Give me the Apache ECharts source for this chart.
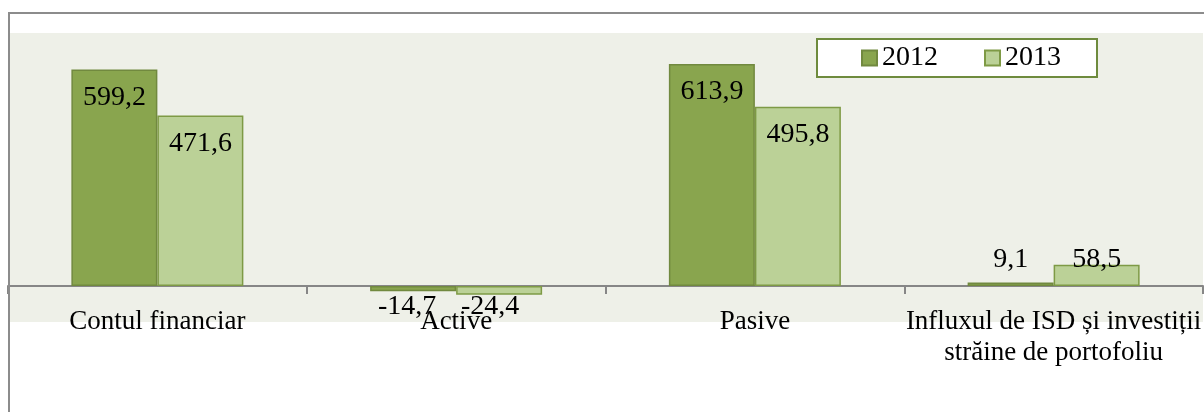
<!DOCTYPE html>
<html>
<head>
<meta charset="utf-8">
<script src="https://cdn.jsdelivr.net/npm/echarts@6/dist/echarts.min.js"></script>
<style>
  html, body { margin: 0; padding: 0; background: #fff; }
  #chart { width: 1204px; height: 412px; }
</style>
</head>
<body>
<div id="chart"></div>
<script>
// date din grafic
const categories = ['Contul financiar', 'Active', 'Pasive', 'Influxul de ISD și investiții\nstrăine de portofoliu']
const seriesNames = ['2012', '2013']
const values2012 = [599.2, -14.7, 613.9, 9.1]
const values2013 = [471.6, -24.4, 495.8, 58.5]

const FONT = '"Liberation Serif", "Times New Roman", serif'

// pozitia etichetelor, pe fiecare bara
const labels2012 = [
  { position: 'insideTop', distance: 14 },
  { position: 'bottom', distance: 0, offset: [-6, 1] },
  { position: 'insideTop', distance: 14 },
  { position: 'top', distance: 9 }
]
const labels2013 = [
  { position: 'insideTop', distance: 14 },
  { position: 'bottom', distance: 0, offset: [-9, -2] },
  { position: 'insideTop', distance: 14 },
  { position: 'top', distance: 9, offset: [0, 18] }
]

function fmt(v) {
  return v.toFixed(1).replace('.', ',')
}

function buildData(values, labels) {
  return values.map((v, i) => ({ value: v, label: labels[i] }))
}

const chart = echarts.init(document.getElementById('chart'))

const option = {
  animation: false,
  backgroundColor: '#fff',
  textStyle: { fontFamily: FONT },
  grid: {
    left: 8,
    right: 1,
    top: 33,
    bottom: 90,
    show: true,
    backgroundColor: '#EEF0E8',
    borderWidth: 0,
    containLabel: false,
    outerBoundsMode: 'none'
  },
  legend: {
    data: seriesNames,
    left: 817,
    top: 39,
    padding: [5, 36, 5, 44],
    itemGap: 46,
    itemWidth: 15,
    itemHeight: 15,
    icon: 'rect',
    backgroundColor: '#fff',
    borderColor: '#6E8B3D',
    borderWidth: 2,
    borderRadius: 0,
    textStyle: { fontFamily: FONT, fontSize: 28, color: '#000' }
  },
  xAxis: {
    type: 'category',
    data: categories,
    axisLine: { onZero: true, lineStyle: { color: '#868686', width: 2 } },
    axisTick: { show: true, length: 8, lineStyle: { color: '#868686', width: 2 } },
    axisLabel: {
      interval: 0,
      margin: -16,
      fontFamily: FONT,
      fontSize: 27,
      lineHeight: 31,
      color: '#000'
    }
  },
  yAxis: {
    type: 'value',
    min: -100,
    max: 700,
    show: false,
    splitLine: { show: false }
  },
  series: [
    {
      name: '2012',
      type: 'bar',
      barWidth: 86,
      barGap: '0%',
      data: buildData(values2012, labels2012),
      itemStyle: { color: '#89A54E', borderColor: '#71893F', borderWidth: 1.5 },
      label: {
        show: true,
        fontFamily: FONT,
        fontSize: 28,
        color: '#000',
        formatter: p => fmt(p.value)
      }
    },
    {
      name: '2013',
      type: 'bar',
      barWidth: 86,
      barGap: '0%',
      data: buildData(values2013, labels2013),
      itemStyle: { color: '#BBD197', borderColor: '#7E9A45', borderWidth: 1.5 },
      label: {
        show: true,
        fontFamily: FONT,
        fontSize: 28,
        color: '#000',
        formatter: p => fmt(p.value)
      }
    }
  ],
  graphic: [
    {
      type: 'rect',
      z: 100,
      silent: true,
      shape: { x: 9, y: 13, width: 1300, height: 500 },
      style: { fill: 'none', stroke: '#8C8C8C', lineWidth: 2 }
    }
  ]
}

chart.setOption(option)
</script>
</body>
</html>
